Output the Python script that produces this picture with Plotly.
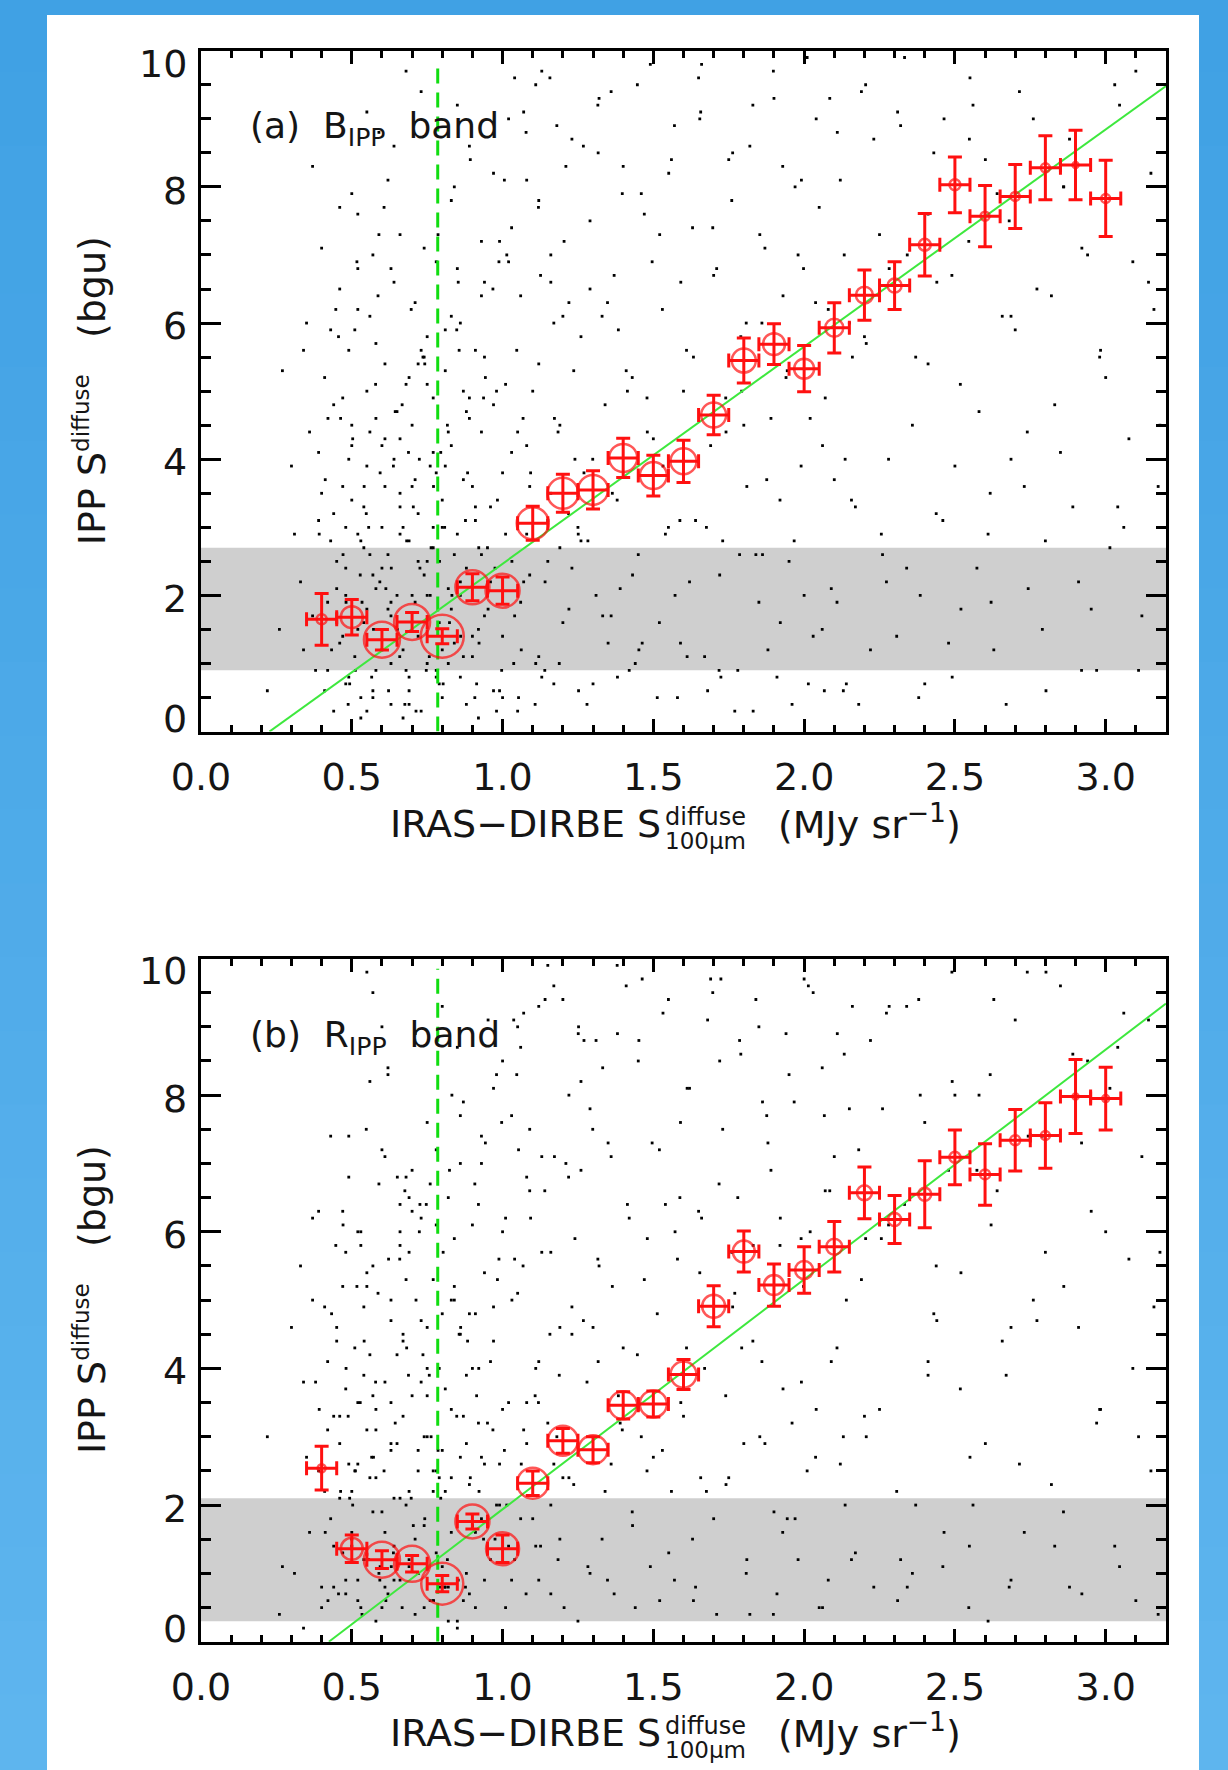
import plotly.graph_objects as go

W, H = 1228, 1770

# ---------------- data ----------------
bins_x = [0.4, 0.5, 0.6, 0.7, 0.8, 0.9, 1.0, 1.1, 1.2, 1.3, 1.4, 1.5, 1.6, 1.7,
          1.8, 1.9, 2.0, 2.1, 2.2, 2.3, 2.4, 2.5, 2.6, 2.7, 2.8, 2.9, 3.0]
bin_half_width = 0.05

# panel (a) B_IPP band
a_y = [1.65, 1.68, 1.35, 1.61, 1.40, 2.12, 2.07, 3.06, 3.50, 3.55, 4.02, 3.76, 3.97, 4.65,
       5.45, 5.69, 5.33, 5.93, 6.41, 6.55, 7.15, 8.03, 7.57, 7.86, 8.28, 8.32, 7.83]
a_err = [0.38, 0.26, 0.15, 0.14, 0.11, 0.20, 0.20, 0.25, 0.28, 0.28, 0.29, 0.30, 0.31, 0.29,
         0.33, 0.30, 0.34, 0.37, 0.37, 0.35, 0.46, 0.41, 0.45, 0.47, 0.47, 0.51, 0.56]
a_circle = [10, 22, 36, 36, 43, 34, 34, 32, 31, 30, 28, 27, 26, 25,
            24, 22, 20, 18, 17, 14, 12, 11, 9, 9, 9, 6, 9]
a_fit_x = [0.227, 3.2]
a_fit_y = [0.0, 9.48]
a_band = [0.90, 2.70]

# panel (b) R_IPP band
b_y = [2.54, 1.36, 1.20, 1.14, 0.85, 1.76, 1.36, 2.32, 2.94, 2.81, 3.46, 3.48, 3.91, 4.91,
       5.71, 5.22, 5.44, 5.78, 6.57, 6.18, 6.55, 7.09, 6.84, 7.34, 7.41, 7.98, 7.95]
b_err = [0.32, 0.20, 0.13, 0.12, 0.12, 0.11, 0.20, 0.18, 0.18, 0.19, 0.20, 0.19, 0.22, 0.30,
         0.30, 0.31, 0.34, 0.37, 0.38, 0.35, 0.49, 0.40, 0.45, 0.45, 0.48, 0.54, 0.46]
b_circle = [8, 22, 36, 36, 42, 34, 33, 31, 30, 29, 28, 27, 26, 23,
            22, 20, 18, 16, 15, 13, 13, 11, 10, 10, 9, 6, 7]
b_fit_x = [0.424, 3.2]
b_fit_y = [0.0, 9.34]
b_band = [0.30, 2.10]

cut_x = 0.785  # vertical dashed line

# background pixel cloud (approximate, estimated by eye; same sky pixels in both panels)
dots_x = [0.22, 0.27, 0.30, 0.26, 0.33, 0.35, 0.36, 0.38, 0.39, 0.40, 0.41, 0.42, 0.43, 0.44, 0.44, 0.37, 0.34,
          0.46, 0.47, 0.48, 0.48, 0.49, 0.50, 0.51, 0.52, 0.52, 0.53,
          0.54, 0.55, 0.55, 0.56, 0.57, 0.58, 0.58, 0.59, 0.60, 0.61,
          0.61, 0.62, 0.63, 0.63, 0.64, 0.65, 0.66, 0.66, 0.67, 0.68,
          0.69, 0.69, 0.70, 0.71, 0.71, 0.72, 0.73, 0.73, 0.74, 0.75,
          0.75, 0.76, 0.77, 0.77, 0.78, 0.79, 0.80, 0.80, 0.81, 0.82,
          0.83, 0.83, 0.84, 0.85, 0.86, 0.86, 0.87, 0.88, 0.88, 0.89,
          0.90, 0.91, 0.91, 0.92, 0.93, 0.93, 0.94, 0.94, 0.55, 0.62,
          0.68, 0.85, 0.57,
          0.96, 0.97, 0.98, 0.99, 1.00, 1.01, 1.02, 1.03, 1.05, 1.06,
          1.07, 1.08, 1.09, 1.11, 1.12, 1.13, 1.15, 1.16, 1.17, 1.19,
          1.20, 1.22, 1.23, 1.25, 1.26, 1.28, 1.29, 1.31, 1.32, 1.34,
          1.35, 1.37, 1.38, 1.40, 1.42, 1.43, 1.45, 1.46, 1.48, 1.49,
          1.52, 1.53, 1.55, 1.57, 1.58, 1.60, 1.62, 1.63, 1.65, 1.67,
          1.69, 1.71, 1.73, 1.75, 1.77, 1.79, 1.81, 1.83, 1.85, 1.87,
          1.89, 1.91, 1.93, 1.95, 1.97, 1.99, 2.01, 2.03, 2.05, 2.07,
          2.09, 2.11, 2.13, 2.15, 2.17, 2.19,
          2.22, 2.25, 2.28, 2.31, 2.34, 2.37, 2.40, 2.43, 2.46, 2.49,
          2.52, 2.55, 2.58, 2.61, 2.64, 2.67, 2.70, 2.73, 2.76, 2.79,
          2.82, 2.85, 2.88, 2.91, 2.94, 2.97, 3.00, 3.03, 3.06, 3.09,
          3.12, 3.15, 3.18,
          0.45, 0.47, 0.49, 0.50, 0.52, 0.54, 0.55, 0.57, 0.58, 0.60,
          0.61, 0.63, 0.64, 0.66, 0.67, 0.69, 0.70, 0.72, 0.74, 0.75,
          0.77, 0.78, 0.80, 0.81, 0.83, 0.85, 0.86, 0.88, 0.89, 0.91,
          0.92, 0.94, 0.95, 0.97, 0.99, 1.00, 1.02, 1.04, 1.05, 1.07,
          1.09, 1.10, 1.12, 1.14, 1.16, 1.18, 1.20, 1.22, 1.24, 1.26,
          0.46, 0.48, 0.51, 0.53, 0.56, 0.59, 0.62, 0.65, 0.68, 0.71,
          0.73, 0.76, 0.79, 0.82, 0.84, 0.87, 0.90, 0.93, 0.96, 0.98,
          1.01, 1.03, 1.06, 1.08, 1.11, 1.13, 1.15, 1.17, 1.19, 1.21,
          0.50, 0.53, 0.56, 0.60, 0.64, 0.67, 0.70, 0.74, 0.78, 0.81,
          0.84, 0.87, 0.90, 0.93, 0.97, 1.00, 1.04, 1.08, 1.12, 1.16,
          1.27, 1.30, 1.33, 1.36, 1.39, 1.41, 1.44, 1.47, 1.50, 1.54,
          1.56, 1.59, 1.61, 1.64, 1.66, 1.68, 1.70, 1.72, 1.74, 1.76,
          1.78, 1.80, 1.82, 1.84, 1.86, 1.88, 1.90, 1.92, 1.94, 1.96,
          1.98, 2.00, 2.02, 2.04, 2.06, 2.08, 2.10, 2.12, 2.14, 2.16,
          0.40, 0.42, 0.43, 0.45, 0.47, 0.49, 0.52, 0.55, 0.58, 0.61,
          0.63, 0.66, 0.69, 0.72, 0.75, 0.77, 0.80, 0.83, 0.86, 0.89,
          0.31, 0.34, 0.37, 0.39, 0.41, 0.44, 0.46, 0.48, 0.50, 0.52,
          2.20, 2.26, 2.32, 2.38, 2.44, 2.50, 2.56, 2.62, 2.68, 2.74,
          2.80, 2.86, 2.92, 2.98, 3.04, 3.10, 3.16, 1.23, 1.29, 1.36,
          0.54, 0.57, 0.60, 0.63, 0.66, 0.69, 0.72, 0.75, 0.78, 0.82,
          0.412, 0.433, 0.456, 0.471, 0.488, 0.503, 0.517, 0.534, 0.548, 0.566,
          0.579, 0.593, 0.607, 0.622, 0.638, 0.651, 0.667, 0.682, 0.697, 0.713,
          0.726, 0.742, 0.757, 0.771, 0.786, 0.803, 0.817, 0.832, 0.848, 0.861,
          0.877, 0.893, 0.908, 0.921, 0.937, 0.952, 0.968, 0.983, 0.997, 1.014,
          1.031, 1.047, 1.062, 1.078, 1.093, 1.108, 1.126, 1.141, 1.157, 1.172,
          1.188, 1.204, 1.219, 1.236, 1.252, 1.268, 1.283, 1.299, 1.316, 1.332,
          1.348, 1.364, 1.381, 1.397, 1.414, 1.431, 1.447, 1.463, 1.479, 1.496,
          1.513, 1.532, 1.551, 1.572, 1.591, 1.612, 1.633, 1.654, 1.676, 1.697,
          1.718, 1.741, 1.763, 1.786, 1.808, 1.831, 1.853, 1.876, 1.898, 1.921,
          1.944, 1.967, 1.991, 2.014, 2.038, 2.061, 2.085, 2.109, 2.133, 2.157,
          2.181, 2.206, 2.231, 2.256, 2.282, 2.307, 2.333, 2.359, 2.385, 2.411,
          2.438, 2.464, 2.491, 2.518, 2.546, 2.573, 2.601, 2.629, 2.657, 2.686,
          2.714, 2.743, 2.772, 2.802, 2.831, 2.861, 2.891, 2.921, 2.952, 2.983,
          3.014, 3.046, 3.077, 3.109, 3.142, 3.174, 0.463, 0.528, 0.594, 0.659,
          0.724, 0.791, 0.856, 0.922, 0.988, 1.053, 1.119, 1.184, 1.251, 1.317,
          0.481, 0.512, 0.556, 0.587, 0.613, 0.644, 0.676, 0.704, 0.736, 0.763,
          0.795, 0.824, 0.853, 0.884, 0.914, 0.943, 0.975, 1.006, 1.037, 1.068,
          1.384, 1.452, 1.521, 1.588, 1.657, 1.724, 1.793, 1.862, 1.929, 1.998,
          2.067, 2.136, 2.204, 2.273, 2.342, 2.411, 2.479, 2.548, 2.617, 2.686,
          0.392, 0.421, 0.447, 0.493, 0.541, 0.572, 0.631, 0.688, 0.747, 0.808]
dots_a_y = [0.6, 5.3, 3.9, 1.5, 2.2, 6.0, 4.4, 0.9, 3.1, 7.1, 5.2, 1.9, 2.8, 0.3, 4.8, 8.3, 1.2,
            6.5, 3.6, 2.4, 0.7, 5.6, 4.2, 1.1, 7.6, 2.9, 0.2,
            3.3, 5.0, 1.8, 6.1, 2.3, 4.6, 0.9, 8.8, 3.0, 5.4,
            1.5, 2.6, 6.8, 0.4, 4.0, 2.0, 3.5, 7.3, 1.2, 5.1,
            2.8, 0.6, 4.5, 6.3, 1.9, 3.2, 9.4, 0.3, 2.3, 5.8,
            1.0, 3.9, 4.9, 2.7, 6.9, 1.6, 3.4, 0.5, 5.3, 2.1,
            4.2, 7.8, 1.3, 2.9, 6.0, 0.8, 3.7, 4.7, 2.4, 8.6,
            1.1, 5.6, 3.1, 0.2, 2.6, 4.4, 6.6, 1.7, 9.1, 8.1,
            9.7, 9.2, 7.0,
            3.3, 0.6, 5.0, 7.2, 1.4, 2.9, 9.0, 4.1, 0.3, 6.4,
            2.2, 8.1, 3.6, 1.0, 5.4, 9.7, 2.5, 7.0, 0.7, 4.5,
            6.1, 1.8, 8.7, 3.0, 5.8, 0.4, 7.5, 2.0, 9.3, 4.8,
            1.3, 6.7, 3.4, 8.3, 0.9, 5.2, 2.6, 7.9, 4.4, 9.8,
            1.6, 6.2, 3.0, 8.9, 0.5, 5.0, 2.2, 7.4, 9.6, 1.1,
            4.2, 6.8, 2.8, 8.4, 0.3, 5.8, 3.6, 9.2, 1.9, 7.1,
            4.6, 0.8, 6.4, 2.5, 8.0, 3.9, 9.9, 1.4, 7.7, 4.9,
            2.1, 8.8, 0.6, 6.0, 3.3, 9.4,
            1.2, 7.3, 4.0, 9.1, 2.4, 5.5, 0.7, 8.5, 3.1, 6.7,
            1.8, 9.6, 4.7, 2.9, 7.9, 0.4, 5.9, 3.6, 9.0, 1.5,
            6.4, 4.1, 8.7, 2.2, 7.0, 0.9, 5.2, 9.5, 3.0, 6.9,
            1.7, 8.2, 4.5,
            2.1, 4.9, 0.8, 3.4, 6.2, 1.6, 3.9, 0.5, 5.7, 2.4,
            4.3, 1.0, 6.6, 2.9, 0.2, 5.2, 3.6, 1.4, 7.1, 2.5,
            4.1, 0.9, 3.0, 5.9, 1.8, 6.8, 2.2, 0.4, 4.6, 3.3,
            1.5, 5.5, 2.7, 8.2, 0.6, 3.8, 6.9, 1.7, 4.4, 9.1,
            2.3, 5.0, 7.8, 0.9, 3.5, 8.9, 1.6, 6.3, 4.0, 2.8,
            1.3, 3.0, 5.9, 0.5, 2.6, 7.3, 1.8, 4.7, 0.9, 3.7,
            5.6, 2.0, 0.7, 4.4, 8.0, 1.1, 3.6, 6.4, 2.2, 0.3,
            5.1, 7.4, 1.9, 4.2, 9.5, 0.8, 3.1, 6.0, 2.7, 8.3,
            7.9, 2.8, 4.4, 1.2, 8.6, 3.0, 2.0, 5.5, 0.8, 3.9,
            2.6, 5.0, 1.4, 7.2, 4.8, 0.5, 9.6, 2.9, 1.1, 6.6,
            3.8, 0.7, 6.1, 9.4, 2.1, 5.3, 1.0, 7.6, 4.3, 2.9,
            8.4, 1.3, 5.6, 3.1, 9.8, 0.6, 6.7, 2.3, 4.9, 7.8,
            0.9, 4.5, 8.6, 2.6, 6.0, 1.2, 9.3, 3.4, 5.2, 0.4,
            7.0, 2.0, 4.6, 9.0, 1.5, 6.2, 3.7, 8.1, 0.7, 5.5,
            3.5, 0.9, 5.9, 2.5, 1.4, 4.0, 6.8, 0.3, 2.1, 3.6,
            1.7, 4.3, 0.8, 2.5, 5.1, 3.0, 1.2, 6.1, 2.0, 4.9,
            2.9, 5.6, 1.7, 4.1, 0.6, 3.2, 7.7, 2.0, 4.5, 1.5,
            5.8, 2.6, 8.9, 0.5, 6.6, 3.9, 9.2, 1.9, 7.5, 4.4,
            2.8, 8.0, 0.9, 5.5, 3.3, 9.7, 6.2, 2.4, 6.5, 1.7,
            2.7, 0.6, 4.2, 1.9, 3.3, 0.4, 5.4, 2.0, 3.8, 1.0,
            3.7, 1.2, 5.8, 2.6, 0.4, 4.3, 6.9, 1.9, 3.2, 0.8,
            5.1, 2.2, 7.7, 0.6, 3.9, 1.5, 4.8, 2.8, 6.2, 0.3,
            2.4, 5.4, 1.1, 3.6, 7.3, 0.7, 4.5, 2.0, 5.9, 1.4,
            3.1, 8.4, 0.5, 2.7, 4.9, 1.8, 6.5, 3.4, 0.9, 7.0,
            2.5, 5.6, 1.2, 8.8, 3.8, 0.4, 6.7, 2.2, 9.6, 4.6,
            1.0, 7.2, 3.2, 5.3, 0.6, 8.6, 2.8, 4.0, 9.2, 1.7,
            6.3, 3.5, 0.8, 7.9, 5.0, 2.3, 9.5, 1.3, 4.9, 6.9,
            0.5, 3.9, 8.2, 2.0, 6.6, 1.1, 5.5, 9.0, 3.0, 7.4,
            0.9, 4.4, 8.5, 2.6, 6.0, 0.3, 7.3, 3.7, 9.7, 1.6,
            5.3, 2.8, 8.1, 0.7, 6.3, 4.2, 9.3, 1.9, 7.0, 3.4,
            0.4, 5.7, 8.7, 2.9, 6.8, 1.4, 9.9, 4.5, 2.0, 7.6,
            3.2, 9.0, 0.8, 5.1, 7.2, 2.4, 8.4, 1.2, 6.1, 4.0,
            9.4, 2.1, 6.5, 0.6, 4.8, 8.0, 3.3, 7.1, 1.8, 5.6,
            2.7, 9.2, 4.3, 0.9, 6.6, 3.6, 4.6, 2.3, 3.8, 1.1,
            4.0, 2.5, 5.6, 1.3, 6.9, 0.5, 7.7, 4.4, 2.9, 8.5,
            1.9, 0.9, 3.0, 6.4, 2.1, 4.7, 0.4, 3.3, 5.5, 2.7,
            4.1, 1.6, 6.6, 3.8, 0.7, 5.2, 2.4, 8.1, 1.0, 4.6,
            5.9, 1.2, 7.3, 3.1, 9.1, 0.8, 5.0, 2.6, 8.3, 6.8,
            0.6, 4.0, 9.5, 2.2, 7.0, 5.4, 1.3, 8.7, 3.5, 6.1,
            2.9, 4.6, 6.2, 0.7, 3.6, 1.5, 2.4, 4.1, 0.9, 3.0]
dots_b_y = [3.0, 1.1, 4.6, 0.4, 5.5, 2.7, 1.6, 3.8, 6.3, 0.8, 2.2, 4.1, 7.4, 1.4, 3.3, 5.0, 0.2,
            2.1, 5.2, 0.9, 3.7, 7.4, 1.5, 4.3, 2.6, 6.0, 0.5,
            4.9, 1.2, 3.1, 8.2, 5.5, 0.3, 2.4, 6.7, 1.9, 3.8,
            7.1, 0.7, 2.9, 5.0, 1.4, 4.2, 6.4, 0.9, 3.3, 2.0,
            5.7, 1.1, 3.6, 8.9, 0.4, 2.5, 4.7, 6.2, 1.7, 3.0,
            7.6, 0.6, 2.2, 5.3, 1.3, 4.0, 9.3, 2.8, 0.8, 6.5,
            3.4, 1.6, 5.9, 0.2, 2.7, 4.5, 7.9, 1.0, 3.9, 2.3,
            6.1, 0.5, 4.8, 3.2, 1.8, 7.0, 2.6, 5.4, 9.8, 8.4,
            6.8, 8.7, 9.5,
            1.2, 4.4, 8.3, 2.6, 6.0, 0.5, 3.5, 7.7, 5.1, 1.8,
            9.2, 2.9, 6.6, 4.0, 0.9, 7.1, 3.2, 5.7, 9.6, 1.5,
            2.4, 8.0, 4.9, 0.3, 6.9, 3.8, 1.0, 8.8, 5.5, 2.2,
            7.3, 0.7, 9.9, 4.3, 6.2, 1.9, 8.5, 3.0, 5.9, 1.1,
            7.2, 2.8, 9.4, 0.9, 5.6, 3.3, 8.1, 1.5, 6.3, 4.0,
            9.7, 0.4, 7.5, 2.4, 5.1, 8.6, 1.2, 4.4, 9.0, 2.9,
            6.9, 0.7, 3.7, 8.3, 1.8, 5.9, 2.5, 9.5, 0.5, 6.6,
            4.1, 8.9, 3.0, 7.8, 1.3, 5.3,
            8.8, 3.4, 6.1, 0.6, 9.3, 2.0, 7.6, 4.8, 1.1, 9.8,
            5.4, 2.7, 8.0, 0.3, 6.6, 3.9, 9.1, 1.6, 5.0, 7.4,
            2.3, 9.6, 0.8, 4.6, 8.5, 3.2, 6.0, 1.4, 9.2, 4.0,
            7.1, 2.5, 5.7,
            4.6, 1.3, 6.8, 2.2, 0.6, 3.9, 5.4, 1.9, 3.1, 7.2,
            0.8, 3.5, 2.1, 5.8, 4.4, 1.2, 6.9, 2.8, 0.5, 4.0,
            2.5, 6.1, 1.1, 3.7, 5.0, 0.3, 7.7, 2.9, 4.8, 1.6,
            6.4, 0.9, 3.2, 4.9, 2.0, 8.5, 1.4, 5.6, 9.0, 3.1,
            7.5, 1.8, 4.1, 6.6, 0.7, 3.0, 9.4, 2.4, 5.9, 8.2,
            3.3, 0.7, 2.5, 6.0, 4.2, 1.0, 8.3, 2.9, 5.3, 1.5,
            3.8, 6.7, 2.4, 0.8, 5.0, 3.3, 1.7, 7.4, 4.1, 2.0,
            6.2, 0.9, 8.7, 3.5, 1.4, 5.7, 9.9, 2.6, 4.6, 7.0,
            1.6, 5.8, 2.4, 9.0, 0.9, 4.5, 6.3, 3.0, 7.2, 2.2,
            5.2, 0.6, 4.0, 2.7, 8.1, 3.4, 1.2, 6.8, 9.3, 2.0,
            8.8, 4.6, 1.5, 7.1, 3.2, 9.6, 0.5, 5.3, 2.7, 6.4,
            2.2, 7.6, 4.3, 0.8, 6.2, 9.1, 1.8, 8.5, 3.6, 5.7,
            6.5, 2.9, 0.4, 9.4, 4.1, 7.3, 1.9, 5.8, 8.9, 3.2,
            1.2, 9.7, 6.0, 3.4, 8.4, 0.9, 7.1, 2.6, 5.0, 9.3,
            0.5, 3.1, 1.8, 4.4, 6.3, 2.6, 0.9, 5.2, 3.4, 1.6,
            4.7, 2.1, 6.5, 1.0, 3.6, 0.6, 4.8, 2.4, 7.0, 0.7,
            1.0, 3.8, 6.2, 2.5, 4.9, 0.8, 2.9, 5.7, 1.4, 3.5,
            3.3, 7.8, 1.2, 9.4, 4.7, 8.0, 2.0, 6.1, 0.8, 9.8,
            5.7, 1.9, 7.3, 3.4, 8.7, 0.6, 4.9, 4.5, 7.8, 2.6,
            1.2, 3.6, 0.5, 2.8, 6.0, 2.2, 1.0, 4.6, 2.5, 0.3,
            1.6, 4.8, 0.7, 6.1, 3.3, 2.0, 5.2, 0.4, 7.5, 2.7,
            3.8, 0.9, 2.5, 5.6, 1.3, 6.8, 0.5, 4.3, 2.1, 5.0,
            6.4, 1.8, 3.9, 0.6, 2.8, 5.7, 1.2, 8.0, 3.3, 4.6,
            0.8, 2.4, 6.7, 4.0, 1.5, 9.1, 3.1, 5.3, 7.6, 2.0,
            5.0, 8.3, 2.6, 0.7, 6.2, 3.6, 1.4, 9.4, 4.5, 7.1,
            3.9, 0.5, 6.8, 2.3, 9.0, 4.7, 1.1, 7.5, 5.6, 8.4,
            0.9, 5.2, 8.9, 3.1, 6.4, 1.7, 4.2, 9.7, 2.5, 7.3,
            4.8, 9.2, 1.3, 6.0, 3.5, 8.1, 0.6, 5.4, 2.2, 9.5,
            6.7, 2.3, 4.9, 8.8, 1.0, 5.8, 3.0, 7.7, 0.4, 6.2,
            1.8, 7.9, 3.8, 9.6, 2.7, 0.5, 6.6, 4.3, 8.6, 1.2,
            7.2, 3.0, 0.8, 5.9, 9.3, 2.2, 6.4, 1.0, 8.0, 4.1,
            5.5, 1.6, 8.2, 3.7, 0.5, 6.9, 2.9, 9.4, 4.4, 0.9,
            2.6, 7.4, 4.7, 9.8, 1.4, 5.2, 8.6, 0.7, 6.3, 3.4,
            8.1, 1.1, 5.6, 3.0, 9.1, 0.4, 2.2, 3.5, 1.1, 5.6,
            6.0, 0.8, 4.5, 2.2, 5.6, 7.2, 3.5, 1.2, 8.9, 4.1,
            4.0, 2.5, 1.2, 5.1, 0.6, 3.2, 6.6, 1.7, 4.2, 3.0,
            2.1, 6.9, 0.9, 4.4, 3.6, 7.3, 1.5, 2.8, 9.1, 5.5,
            3.6, 8.8, 0.6, 6.5, 2.4, 9.7, 4.3, 7.9, 1.6, 5.2,
            7.7, 2.0, 5.9, 9.2, 0.8, 3.9, 6.9, 1.4, 8.3, 4.6,
            3.4, 0.6, 5.8, 2.1, 4.4, 2.7, 1.1, 3.9, 6.4, 0.8]
assert len(dots_x) == len(dots_a_y) == len(dots_b_y)

x_tick_vals = [0.0, 0.5, 1.0, 1.5, 2.0, 2.5, 3.0]
x_tick_text = ["0.0", "0.5", "1.0", "1.5", "2.0", "2.5", "3.0"]
y_tick_vals = [0, 2, 4, 6, 8, 10]
y_tick_text = ["0", "2", "4", "6", "8", "10"]
panel_labels = ["(a)\u00a0 B<sub>IPP</sub>\u00a0 band", "(b)\u00a0 R<sub>IPP</sub>\u00a0 band"]

# ---------------- styling ----------------
FONT = "DejaVu Sans"
TXT = "#151515"
RED = "#ff1010"
GREEN = "#3ee83e"
DGREEN = "#10dd10"
y_label_shift = {0: 13, 2: -4, 4: -3, 6: -3, 8: -4, 10: -13}


def pxx(x):
    return x / W


def pyy(y):
    return 1 - y / H


fig = go.Figure()

panels = [
    dict(xa="x", ya="y", y=a_y, err=a_err, circ=a_circle, fx=a_fit_x, fy=a_fit_y,
         band=a_band, dots=dots_a_y, top=50.7, bottom=731.6, label=panel_labels[0], off=0),
    dict(xa="x2", ya="y2", y=b_y, err=b_err, circ=b_circle, fx=b_fit_x, fy=b_fit_y,
         band=b_band, dots=dots_b_y, top=958.5, bottom=1641.7, label=panel_labels[1], off=909),
]

for p in panels:
    fig.add_trace(go.Scatter(x=dots_x, y=p["dots"], mode="markers", xaxis=p["xa"], yaxis=p["ya"],
                             marker=dict(symbol="square", size=2.8, color="black"),
                             hoverinfo="skip"))
    fig.add_trace(go.Scatter(x=[cut_x, cut_x], y=[0, 9.85], mode="lines", xaxis=p["xa"], yaxis=p["ya"],
                             line=dict(color=DGREEN, width=3, dash="15px,9px")))
    fig.add_trace(go.Scatter(x=p["fx"], y=p["fy"], mode="lines", xaxis=p["xa"], yaxis=p["ya"],
                             line=dict(color=GREEN, width=2)))
    fig.add_trace(go.Scatter(
        x=bins_x, y=p["y"], mode="markers", xaxis=p["xa"], yaxis=p["ya"],
        marker=dict(symbol="circle-open", size=p["circ"], color=RED, line=dict(width=2.5, color=RED)),
        error_y=dict(type="data", array=p["err"], color=RED, thickness=3, width=7),
        error_x=dict(type="constant", value=bin_half_width, color=RED, thickness=3, width=7),
    ))

shapes = []
# blue gradient backdrop
n = 24
c0 = (64, 161, 228)
c1 = (94, 181, 238)
for i in range(n):
    t = i / (n - 1)
    col = "rgb(%d,%d,%d)" % tuple(round(a + (b - a) * t) for a, b in zip(c0, c1))
    shapes.append(dict(type="rect", xref="paper", yref="paper", x0=0, x1=1,
                       y0=1 - (i + 1) / n, y1=1 - i / n + 0.001, fillcolor=col,
                       line=dict(width=0), layer="below"))
shapes.append(dict(type="rect", xref="paper", yref="paper", x0=pxx(47), x1=pxx(1199),
                   y0=0, y1=pyy(15), fillcolor="white", line=dict(width=0), layer="below"))
for p in panels:
    shapes.append(dict(type="rect", xref=p["xa"], yref=p["ya"],
                       x0=0, x1=3.2, y0=p["band"][0], y1=p["band"][1],
                       fillcolor="#cfcfcf", line=dict(width=0), layer="below"))

annotations = []
for p in panels:
    off = p["off"]
    # y tick labels
    for v, t in zip(y_tick_vals, y_tick_text):
        annotations.append(dict(xref=p["xa"] + " domain", yref=p["ya"], x=0, y=v,
                                xanchor="right", yanchor="middle", showarrow=False,
                                xshift=-12, yshift=y_label_shift[v],
                                text=t, font=dict(family=FONT, size=38, color=TXT)))
    # panel label
    annotations.append(dict(xref="paper", yref="paper", x=pxx(248), y=pyy(128 + off),
                            xanchor="left", yanchor="middle", showarrow=False,
                            text=p["label"], font=dict(family=FONT, size=36, color=TXT)))
    # y title
    annotations.append(dict(xref="paper", yref="paper", x=pxx(91), y=pyy((p["top"] + p["bottom"]) / 2),
                            xanchor="center", yanchor="middle", showarrow=False, textangle=-90,
                            text="IPP S<sup><span style='font-size:23px'>diffuse</span></sup>\u00a0\u00a0 (bgu)",
                            font=dict(family=FONT, size=38, color=TXT)))
    # x title
    annotations.append(dict(xref="paper", yref="paper", x=pxx(663), y=pyy(824 + off),
                            xanchor="right", yanchor="middle", showarrow=False,
                            text="IRAS\u2212DIRBE S", font=dict(family=FONT, size=38, color=TXT)))
    annotations.append(dict(xref="paper", yref="paper", x=pxx(663), y=pyy(817 + off),
                            xanchor="left", yanchor="middle", showarrow=False,
                            text="diffuse", font=dict(family=FONT, size=24, color=TXT)))
    annotations.append(dict(xref="paper", yref="paper", x=pxx(663), y=pyy(841 + off),
                            xanchor="left", yanchor="middle", showarrow=False,
                            text="100\u03bcm", font=dict(family=FONT, size=23, color=TXT)))
    annotations.append(dict(xref="paper", yref="paper", x=pxx(776), y=pyy(822 + off),
                            xanchor="left", yanchor="middle", showarrow=False,
                            text="(MJy sr<sup>\u22121</sup>)", font=dict(family=FONT, size=38, color=TXT)))

xdom = [pxx(201), pxx(1166)]
common_x = dict(range=[0, 3.2], domain=xdom, showline=True, linecolor="black", linewidth=3,
                mirror="allticks", ticks="inside", ticklen=13, tickwidth=2.5, tickcolor="black",
                tickvals=x_tick_vals, ticktext=x_tick_text, showgrid=False, zeroline=False,
                automargin=False,
                tickfont=dict(family=FONT, size=38, color=TXT), ticklabelstandoff=10,
                minor=dict(dtick=0.1, tick0=0, ticks="inside", ticklen=7, tickwidth=2.5,
                           tickcolor="black", showgrid=False))
common_y = dict(range=[0, 10], showline=True, linecolor="black", linewidth=3,
                mirror="allticks", ticks="inside", ticklen=20, tickwidth=2.5, tickcolor="black",
                tickvals=y_tick_vals, showticklabels=False, showgrid=False, zeroline=False,
                automargin=False,
                minor=dict(dtick=0.5, tick0=0, ticks="inside", ticklen=10, tickwidth=2.5,
                           tickcolor="black", showgrid=False))

fig.update_layout(
    width=W, height=H, margin=dict(l=0, r=0, t=0, b=0, pad=0, autoexpand=False),
    paper_bgcolor="white", plot_bgcolor="white", showlegend=False,
    xaxis=dict(common_x, anchor="y"),
    yaxis=dict(common_y, anchor="x", domain=[pyy(731.6), pyy(50.7)]),
    xaxis2=dict(common_x, anchor="y2"),
    yaxis2=dict(common_y, anchor="x2", domain=[pyy(1641.7), pyy(958.5)]),
    shapes=shapes, annotations=annotations,
)

fig.write_html("out.html")
